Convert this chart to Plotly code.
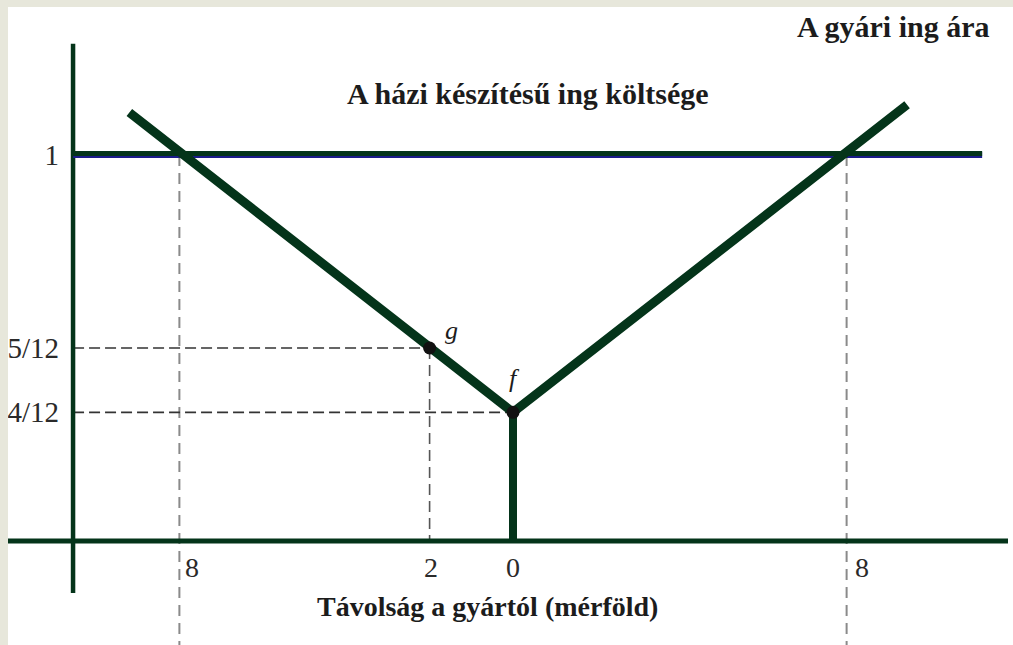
import plotly.graph_objects as go

# signed distance from the factory (miles): left of the factory is negative
home_x = [-9.2, 0, 9.45]
home_cost = [1.11, 4 / 12, 1.13]

factory_price = 1
factory_x = [-10.55, 11.25]

g_point = (-2, 6 / 12)
f_point = (0, 4 / 12)
cross_x = [-8, 8]

y_tick_vals = [4 / 12, 6 / 12, 1]
y_tick_text = ["4/12", "5/12", "1"]
x_tick_vals = [-8, -2, 0, 8]
x_tick_text = ["8", "2", "0", "8"]

axis_x = -10.55
axis_y_span = [-0.135, 1.288]
x_range = [-12.11, 11.99]
y_range = [-0.2694, 1.3834]

GREEN = "#04341a"
BEIGE = "#e7e7db"
SERIF = "Liberation Serif"
TEXT = "#1c1c1c"

fig = go.Figure()


def line(xs, ys, color, width, dash="solid"):
    fig.add_trace(
        go.Scatter(
            x=xs,
            y=ys,
            mode="lines",
            line=dict(color=color, width=width, dash=dash),
            hoverinfo="skip",
        )
    )


# dashed guides
for cx in cross_x:
    line([cx, cx], [factory_price, y_range[0]], "#8a8a8a", 2, "11px,7px")
line([g_point[0], g_point[0]], [g_point[1], 0], "#555555", 1.6, "11px,6px")
line([axis_x, g_point[0]], [g_point[1], g_point[1]], "#333333", 1.6, "11px,5px")
line([axis_x, f_point[0]], [f_point[1], f_point[1]], "#333333", 1.6, "11px,5px")

# axes
line([axis_x, axis_x], axis_y_span, GREEN, 4.5)
line([x_range[0], 11.87], [0, 0], GREEN, 5)

# factory price line (blue edge under a green line)
line(factory_x, [factory_price, factory_price], "#1b1b8a", 6)
line(factory_x, [factory_price + 0.004, factory_price + 0.004], GREEN, 5)

# home-made cost
line([f_point[0], f_point[0]], [0, f_point[1]], GREEN, 8)
line(home_x, home_cost, GREEN, 9)

fig.add_trace(
    go.Scatter(
        x=[g_point[0], f_point[0]],
        y=[g_point[1], f_point[1]],
        mode="markers",
        marker=dict(color="#111111", size=13),
        hoverinfo="skip",
    )
)

notes = [
    ("A gyári ing ára", 893, 27, 30, "b"),
    ("A házi készítésű ing költsége", 528, 93, 30, "b"),
    ("Távolság a gyártól (mérföld)", 487, 606, 28, "b"),
    ("g", 451, 330, 26, "i"),
    ("f", 514, 378, 26, "i"),
]
for text, px, py, size, tag in notes:
    fig.add_annotation(
        x=(px - 8) / 1005,
        y=1 - (py - 7) / 638,
        xref="paper",
        yref="paper",
        xanchor="center",
        yanchor="middle",
        text="<%s>%s</%s>" % (tag, text, tag),
        showarrow=False,
        font=dict(family=SERIF, size=size, color=TEXT),
    )

# distance labels sit just right of the dashed lines at 8
x_label_shift = [13, 1, 0, 15]
for val, txt, shift in zip(x_tick_vals, x_tick_text, x_label_shift):
    fig.add_annotation(
        x=val,
        y=0,
        text=txt,
        showarrow=False,
        yshift=-26,
        xshift=shift,
        font=dict(family=SERIF, size=28, color="#2a2a2a"),
    )

fig.update_layout(
    width=1013,
    height=645,
    margin=dict(l=8, r=0, t=7, b=0),
    paper_bgcolor=BEIGE,
    plot_bgcolor="white",
    showlegend=False,
    xaxis=dict(range=x_range, visible=False),
    yaxis=dict(
        range=y_range,
        anchor="free",
        position=(59 - 8) / 1005,
        showgrid=False,
        zeroline=False,
        showline=False,
        ticks="",
        tickmode="array",
        tickvals=y_tick_vals,
        ticktext=y_tick_text,
        tickfont=dict(family=SERIF, size=29, color="#2a2a2a"),
    ),
    shapes=[
        # the beige frame clips the left labels
        dict(
            type="rect",
            xref="paper",
            yref="paper",
            x0=-8 / 1005,
            x1=0,
            y0=-0.01,
            y1=1.02,
            fillcolor=BEIGE,
            line_width=0,
            layer="above",
        )
    ],
)

# the page's default body margin would shift the figure
fig.write_html(
    "out.html",
    config={"displayModeBar": False},
    post_script="document.body.style.margin = '0';",
)
